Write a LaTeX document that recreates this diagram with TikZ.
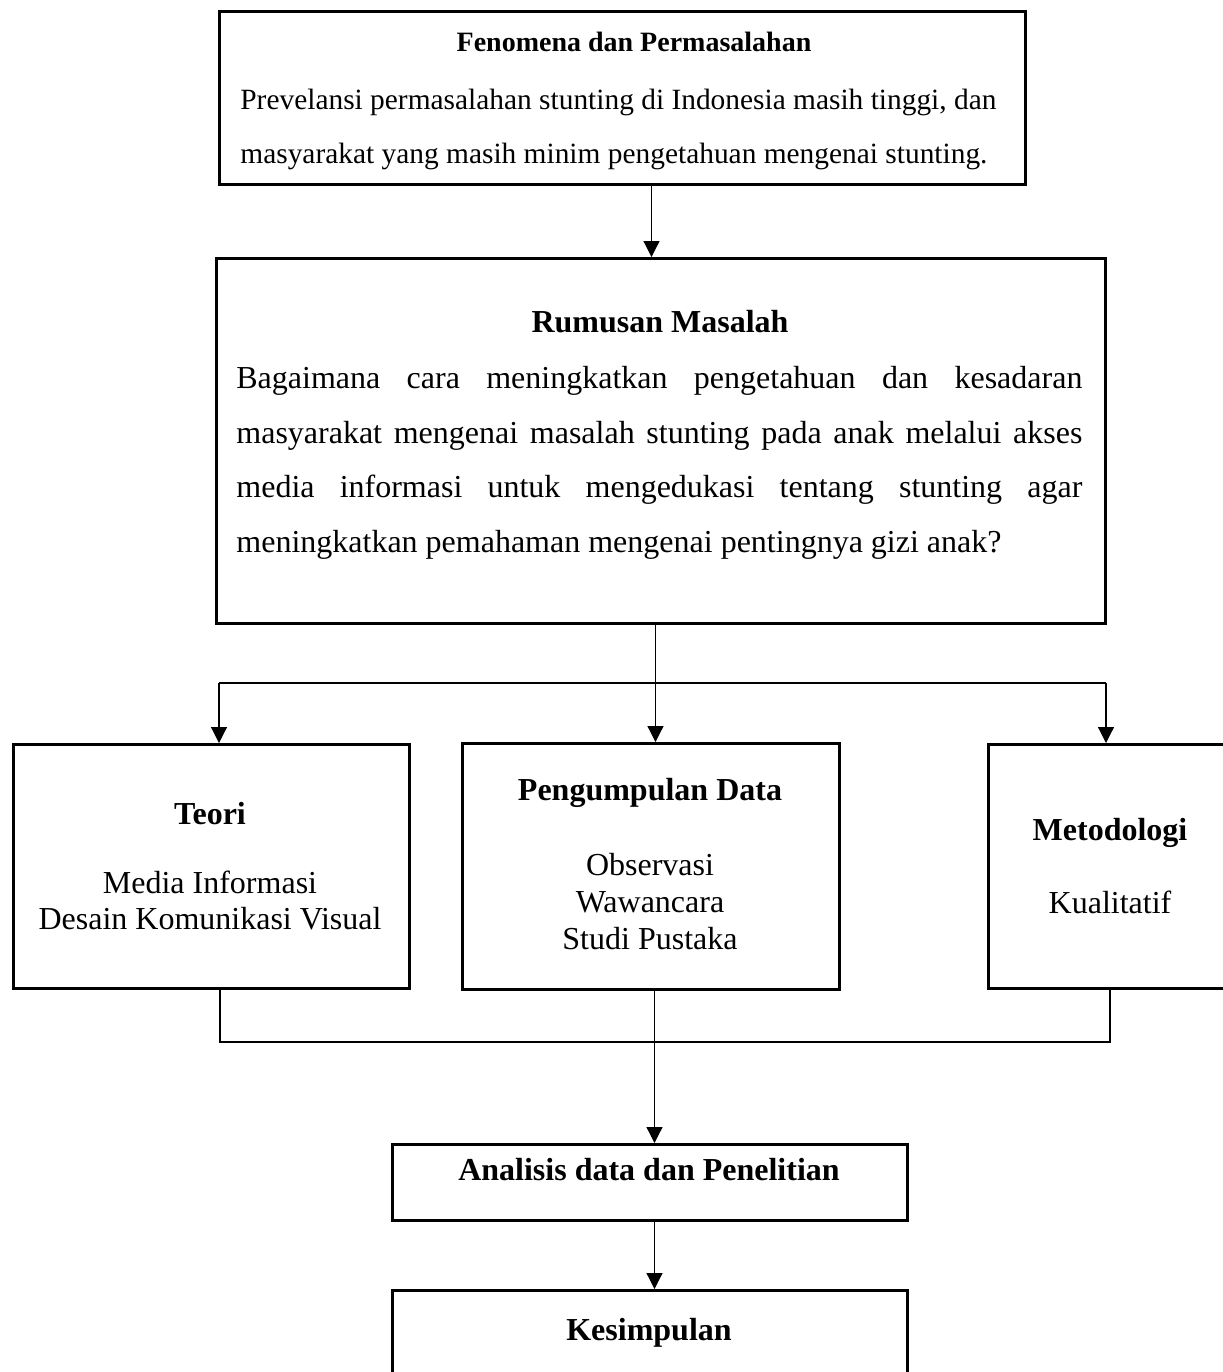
\documentclass[tikz,border=0pt]{standalone}
\usepackage{fontspec}
\setmainfont{Liberation Serif}
\usetikzlibrary{arrows.meta}
\begin{document}
\begin{tikzpicture}[x=0.5pt,y=-0.5pt,
  box/.style={draw, line width=1.5pt, inner sep=0pt, anchor=north west},
  conn/.style={line width=0.6pt},
  arr/.style={conn, -{Triangle[length=8pt,width=8pt]}},
  txt/.style={inner sep=0pt, anchor=base, font=\fontsize{16}{19}\selectfont},
  ttl/.style={inner sep=0pt, anchor=base, font=\fontsize{16}{19}\selectfont\bfseries},
  stxt/.style={inner sep=0pt, anchor=base west, font=\fontsize{14.7}{17}\selectfont},
  sttl/.style={inner sep=0pt, anchor=base, font=\fontsize{14}{17}\selectfont\bfseries},
]
\useasboundingbox (0,0) rectangle (1222,1372);

% boxes
\node[box, minimum width=403pt, minimum height=86.5pt] (top) at (218,10) {};
\node[box, minimum width=444.5pt, minimum height=182.5pt] (rum) at (215,257) {};
\node[box, minimum width=198pt, minimum height=122pt] (teori) at (12,743) {};
\node[box, minimum width=188.5pt, minimum height=123pt] (peng) at (461,742) {};
\node[box, minimum width=123pt, minimum height=122pt] (meto) at (987,743) {};
\node[box, minimum width=257.5pt, minimum height=38pt] (anal) at (391,1143) {};
\node[box, minimum width=257.5pt, minimum height=60pt] (kes) at (391,1289) {};

% texts: top box
\node[sttl] (topT) at (634,51) {Fenomena dan Permasalahan};
\node[stxt] (top1) at (240,109) {Prevelansi permasalahan stunting di Indonesia masih tinggi, dan};
\node[stxt] (top2) at (240,163) {masyarakat yang masih minim pengetahuan mengenai stunting.};

% rumusan
\node[ttl] (rumT) at (660,332) {Rumusan Masalah};
\node[txt, anchor=base west] (rum1) at (236,388) {\makebox[423pt][s]{Bagaimana cara meningkatkan pengetahuan dan kesadaran}};
\node[txt, anchor=base west] (rum2) at (236,443) {\makebox[423pt][s]{masyarakat mengenai masalah stunting pada anak melalui akses}};
\node[txt, anchor=base west] (rum3) at (236,497) {\makebox[423pt][s]{media informasi untuk mengedukasi tentang stunting agar}};
\node[txt, anchor=base west] (rum4) at (236,552) {meningkatkan pemahaman mengenai pentingnya gizi anak?};

% teori
\node[ttl] (teoT) at (210,824) {Teori};
\node[txt] (teo1) at (210,893) {Media Informasi};
\node[txt] (teo2) at (210,929) {Desain Komunikasi Visual};

% pengumpulan
\node[ttl] (pengT) at (650,800) {Pengumpulan Data};
\node[txt] (peng1) at (650,875) {Observasi};
\node[txt] (peng2) at (650,912) {Wawancara};
\node[txt] (peng3) at (650,949) {Studi Pustaka};

% metodologi
\node[ttl] (metoT) at (1110,840) {Metodologi};
\node[txt] (meto1) at (1110,913) {Kualitatif};

% analisis, kesimpulan
\node[ttl] (analT) at (649,1180) {Analisis data dan Penelitian};
\node[ttl] (kesT) at (649,1340) {Kesimpulan};

% connectors
\draw[arr] ([xshift=14.5pt]top.south) -- ([xshift=-4.75pt]rum.north);
\draw[arr] ([xshift=-2.75pt]rum.south) -- ([xshift=2.25pt]peng.north);
\coordinate (bl) at (219,683);
\coordinate (br) at (1106,683);
\draw[conn] (bl) -- (br);
\draw[arr] (bl) -- (bl |- teori.north);
\draw[arr] (br) -- (br |- meto.north);
\coordinate (jl) at (220,1042);
\coordinate (jr) at (1110,1042);
\draw[conn] (jl |- teori.south) -- (jl) -- (jr) -- (jr |- meto.south);
\draw[arr] ([xshift=1.75pt]peng.south) -- ([xshift=2.25pt]anal.north);
\draw[arr] ([xshift=2.25pt]anal.south) -- ([xshift=2.25pt]kes.north);
\end{tikzpicture}
\end{document}
